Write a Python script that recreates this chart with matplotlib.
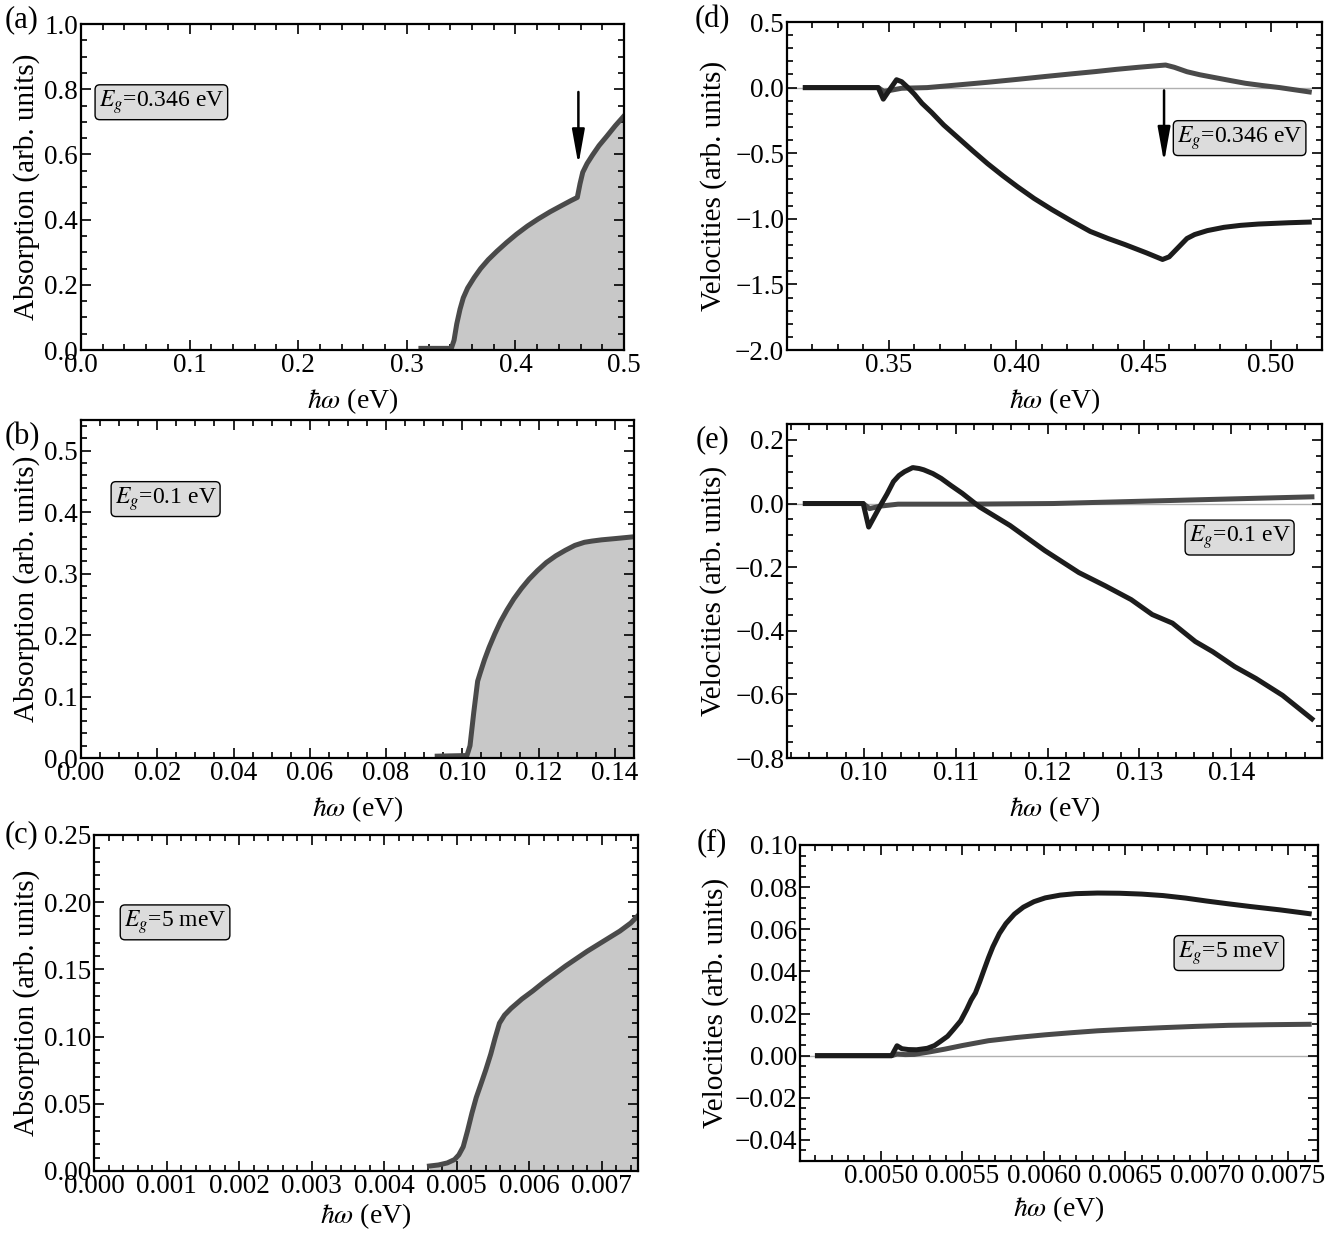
import matplotlib
matplotlib.use("Agg")
import matplotlib.pyplot as plt
from matplotlib.ticker import MultipleLocator, FuncFormatter

plt.rcParams['font.family'] = ['Liberation Serif', 'DejaVu Serif']
plt.rcParams['mathtext.fontset'] = 'stix'
plt.rcParams['font.size'] = 21
plt.rcParams['xtick.labelsize'] = 19.5
plt.rcParams['ytick.labelsize'] = 19.5

# ---- data ----
# (a) absorption, Eg = 0.346 eV
a_x = [0.313, 0.341, 0.3435, 0.346, 0.349, 0.352, 0.356, 0.362, 0.368, 0.375,
       0.383, 0.392, 0.401, 0.411, 0.421, 0.432, 0.442, 0.451, 0.457, 0.4595,
       0.462, 0.466, 0.471, 0.477, 0.484, 0.492, 0.500]
a_y = [0.005, 0.005, 0.030, 0.080, 0.125, 0.160, 0.190, 0.222, 0.250, 0.277,
       0.303, 0.330, 0.355, 0.380, 0.402, 0.424, 0.442, 0.458, 0.468, 0.510,
       0.545, 0.572, 0.598, 0.627, 0.655, 0.688, 0.718]

# (b) absorption, Eg = 0.1 eV
b_x = [0.0934, 0.1012, 0.1020, 0.1030, 0.1040, 0.1047, 0.1058, 0.1070, 0.1085,
       0.1100, 0.1117, 0.1135, 0.1155, 0.1175, 0.1197, 0.1220, 0.1245, 0.1270,
       0.1295, 0.1320, 0.1340, 0.1365, 0.1400, 0.1450]
b_y = [0.003, 0.004, 0.020, 0.075, 0.125, 0.139, 0.160, 0.180, 0.202,
       0.222, 0.241, 0.259, 0.276, 0.291, 0.305, 0.318, 0.329, 0.338,
       0.346, 0.351, 0.353, 0.355, 0.357, 0.360]

# (c) absorption, Eg = 5 meV
c_x = [0.004625, 0.00475, 0.00487, 0.00497, 0.00503, 0.00509, 0.00515, 0.00521,
       0.00527, 0.00533, 0.00540, 0.00547, 0.00553, 0.00559, 0.00566, 0.00575,
       0.00590, 0.00605, 0.00620, 0.00635, 0.00650, 0.00665, 0.00680, 0.00695,
       0.00710, 0.00725, 0.00740, 0.00750]
c_y = [0.0037, 0.0045, 0.0060, 0.0085, 0.0120, 0.0180, 0.0299, 0.0430,
       0.0547, 0.0640, 0.0750, 0.0870, 0.0990, 0.1100, 0.1160, 0.1210,
       0.1280, 0.1340, 0.1405, 0.1465, 0.1525, 0.1580, 0.1635, 0.1685,
       0.1735, 0.1785, 0.1845, 0.1900]

# (d) velocities, Eg = 0.346 eV
d_x1 = [0.3172, 0.3458, 0.3478, 0.3505, 0.3530, 0.3550, 0.3575, 0.3600, 0.3630,
        0.3668, 0.3715, 0.3769, 0.3828, 0.3887, 0.3946, 0.4005, 0.4070, 0.4140,
        0.4215, 0.4290, 0.4360, 0.4426, 0.4510, 0.4574, 0.4600, 0.4620, 0.4650,
        0.4670, 0.4700, 0.4750, 0.4815, 0.4880, 0.4950, 0.5070, 0.5150]
d_y1 = [0.0, 0.0, -0.088, -0.01, 0.060, 0.045, 0.0, -0.05, -0.12,
        -0.19, -0.285, -0.378, -0.480, -0.579, -0.670, -0.756, -0.845, -0.930,
        -1.015, -1.096, -1.150, -1.196, -1.259, -1.310, -1.290, -1.250, -1.190,
        -1.150, -1.120, -1.090, -1.065, -1.050, -1.040, -1.030, -1.025]
d_x2 = [0.3172, 0.3458, 0.3480, 0.3550, 0.3650, 0.3769, 0.3890, 0.4005, 0.4115,
        0.4224, 0.4310, 0.4392, 0.4480, 0.4560, 0.4586, 0.4620, 0.4670, 0.4720,
        0.4780, 0.4840, 0.4899, 0.4965, 0.5034, 0.5150]
d_y2 = [0.0, 0.0, -0.030, -0.005, 0.0, 0.020, 0.041, 0.063, 0.085,
        0.106, 0.122, 0.139, 0.155, 0.168, 0.172, 0.155, 0.121, 0.098,
        0.076, 0.054, 0.033, 0.016, 0.0, -0.033]

# (e) velocities, Eg = 0.1 eV
e_x1 = [0.0936, 0.0999, 0.1005, 0.1018, 0.1025, 0.1032, 0.1038, 0.1044, 0.1053,
        0.1060, 0.1065, 0.1075, 0.1084, 0.1095, 0.1107, 0.1126, 0.1159, 0.1197,
        0.1234, 0.1263, 0.1291, 0.1314, 0.1336, 0.1361, 0.1380, 0.1404, 0.1427,
        0.1456, 0.1488]
e_y1 = [0.0, 0.0, -0.074, -0.005, 0.030, 0.069, 0.088, 0.100, 0.113,
        0.110, 0.106, 0.094, 0.079, 0.056, 0.032, -0.011, -0.069, -0.148,
        -0.217, -0.259, -0.302, -0.349, -0.376, -0.434, -0.466, -0.513, -0.550,
        -0.603, -0.677]
e_x2 = [0.0936, 0.0999, 0.1006, 0.1018, 0.1037, 0.1113, 0.1206, 0.1300, 0.1394, 0.1488]
e_y2 = [0.0, 0.0, -0.016, -0.008, -0.002, -0.002, 0.0, 0.007, 0.014, 0.021]

# (f) velocities, Eg = 5 meV
f_x1 = [0.004612, 0.005067, 0.005100, 0.005130, 0.005170, 0.005220, 0.005286,
        0.005330, 0.005367, 0.005410, 0.005447, 0.005490, 0.005527, 0.005555,
        0.005581, 0.005608, 0.005634, 0.005661, 0.005688, 0.005728, 0.005768,
        0.005820, 0.005875, 0.005940, 0.006009, 0.006100, 0.006196, 0.006330,
        0.006464, 0.006600, 0.006731, 0.006870, 0.006999, 0.007130, 0.007267,
        0.007450, 0.007628]
f_y1 = [0.0, 0.0, 0.0047, 0.0033, 0.0029, 0.0028, 0.0035,
        0.0048, 0.0068, 0.0092, 0.0125, 0.0165, 0.0219, 0.0265,
        0.0298, 0.0352, 0.0408, 0.0465, 0.0517, 0.0580, 0.0627,
        0.0672, 0.0705, 0.0731, 0.0749, 0.0762, 0.0769, 0.0772,
        0.0771, 0.0767, 0.0760, 0.0748, 0.0734, 0.0721, 0.0708,
        0.0692, 0.0674]
f_x2 = [0.004612, 0.005067, 0.005100, 0.005150, 0.005206, 0.005300, 0.005393,
        0.005500, 0.005661, 0.005830, 0.006009, 0.006170, 0.006330, 0.006530,
        0.006731, 0.006930, 0.007133, 0.007380, 0.007628]
f_y2 = [0.0, 0.0, 0.0008, 0.0005, 0.0006, 0.0018, 0.0031,
        0.0048, 0.0071, 0.0086, 0.0099, 0.0109, 0.0118, 0.0126,
        0.0133, 0.0139, 0.0144, 0.0147, 0.0149]

W, H = 1340, 1236
fig = plt.figure(figsize=(W / 100, H / 100), dpi=100)


def add_ax(left, right, top, bottom):
    return fig.add_axes([left / W, 1 - bottom / H, (right - left) / W, (bottom - top) / H])


def fmt(nd):
    return FuncFormatter(lambda v, p: f"{v:.{nd}f}".replace("-", "\u2212"))


def style(ax, xlim, ylim, xmaj, xmin, ymaj, ymin, xnd, ynd, xpad=6):
    ax.set_xlim(*xlim)
    ax.set_ylim(*ylim)
    ax.xaxis.set_major_locator(MultipleLocator(xmaj))
    ax.xaxis.set_minor_locator(MultipleLocator(xmin))
    ax.yaxis.set_major_locator(MultipleLocator(ymaj))
    ax.yaxis.set_minor_locator(MultipleLocator(ymin))
    ax.xaxis.set_major_formatter(fmt(xnd))
    ax.yaxis.set_major_formatter(fmt(ynd))
    ax.tick_params(which='both', direction='in', top=True, right=True, width=1.2)
    ax.tick_params(which='major', length=7, pad=2)
    ax.tick_params(which='minor', length=4)
    for s in ax.spines.values():
        s.set_linewidth(1.6)
    ax.set_xlabel(r'$\hbar\omega$ (eV)', labelpad=xpad, fontsize=20)


box = dict(boxstyle='round,pad=0.15,rounding_size=0.2', facecolor='#dcdcdc', edgecolor='black', lw=1.0)
arrow = dict(arrowstyle='-|>,head_width=0.18,head_length=1.0', color='k', lw=1.8)
absc = '#4a4a4a'
fillc = '#c8c8c8'
dark = '#1c1c1c'
grey = '#4a4a4a'
boxfs = 17

# (a)
ax = add_ax(81, 624, 24, 350)
ax.fill_between(a_x, 0, a_y, color=fillc, lw=0)
ax.plot(a_x, a_y, color=absc, lw=3.6)
style(ax, (0, 0.5), (0, 1.0), 0.1, 0.02, 0.2, 0.05, 1, 1)
ax.set_ylabel('Absorption (arb. units)', labelpad=3)
ax.text(0.148, 0.76, r'$E_g$=0.346 eV', transform=ax.transAxes, ha='center', va='center', fontsize=boxfs, bbox=box)
ax.annotate('', xy=(0.458, 0.56), xytext=(0.458, 0.80), arrowprops=arrow)
fig.text(22 / W, 1 - 20 / H, '(a)', ha='center', va='center', fontsize=22)

# (b)
ax = add_ax(81, 634, 420, 758)
ax.fill_between(b_x, 0, b_y, color=fillc, lw=0)
ax.plot(b_x, b_y, color=absc, lw=3.6)
style(ax, (0, 0.145), (0, 0.55), 0.02, 0.005, 0.1, 0.02, 2, 1)
ax.set_ylabel('Absorption (arb. units)', labelpad=3)
ax.text(0.153, 0.766, r'$E_g$=0.1 eV', transform=ax.transAxes, ha='center', va='center', fontsize=boxfs, bbox=box)
fig.text(22 / W, 1 - 437 / H, '(b)', ha='center', va='center', fontsize=22)

# (c)
ax = add_ax(94, 638, 835, 1171)
ax.fill_between(c_x, 0, c_y, color=fillc, lw=0)
ax.plot(c_x, c_y, color=absc, lw=3.6)
style(ax, (0, 0.0075), (0, 0.25), 0.001, 0.0002, 0.05, 0.01, 3, 2, xpad=2)
ax.set_ylabel('Absorption (arb. units)', labelpad=3)
ax.text(0.149, 0.74, r'$E_g$=5 meV', transform=ax.transAxes, ha='center', va='center', fontsize=boxfs, bbox=box)
fig.text(22 / W, 1 - 835 / H, '(c)', ha='center', va='center', fontsize=22)

# (d)
ax = add_ax(787, 1322, 22, 350)
ax.axhline(0, color='#b0b0b0', lw=1.0, zorder=1)
ax.plot(d_x2, d_y2, color=grey, lw=3.6)
ax.plot(d_x1, d_y1, color=dark, lw=3.6)
style(ax, (0.310, 0.520), (-2.0, 0.5), 0.05, 0.01, 0.5, 0.1, 2, 1)
ax.set_ylabel('Velocities (arb. units)', labelpad=6)
ax.text(0.846, 0.646, r'$E_g$=0.346 eV', transform=ax.transAxes, ha='center', va='center', fontsize=boxfs, bbox=box)
ax.annotate('', xy=(0.458, -0.59), xytext=(0.458, 0.0), arrowprops=arrow)
fig.text(712 / W, 1 - 20 / H, '(d)', ha='center', va='center', fontsize=22)

# (e)
ax = add_ax(787, 1322, 424, 758)
ax.axhline(0, color='#b0b0b0', lw=1.0, zorder=1)
ax.plot(e_x2, e_y2, color=grey, lw=3.6)
ax.plot(e_x1, e_y1, color=dark, lw=3.6)
style(ax, (0.0916, 0.1499), (-0.8, 0.25), 0.01, 0.002, 0.2, 0.05, 2, 1)
ax.set_ylabel('Velocities (arb. units)', labelpad=6)
ax.text(0.846, 0.66, r'$E_g$=0.1 eV', transform=ax.transAxes, ha='center', va='center', fontsize=boxfs, bbox=box)
fig.text(712 / W, 1 - 440 / H, '(e)', ha='center', va='center', fontsize=22)

# (f)
ax = add_ax(800, 1318, 845, 1161)
ax.axhline(0, color='#b0b0b0', lw=1.0, zorder=1)
ax.plot(f_x2, f_y2, color=grey, lw=3.6)
ax.plot(f_x1, f_y1, color=dark, lw=3.6)
style(ax, (0.004505, 0.007682), (-0.05, 0.10), 0.0005, 0.0001, 0.02, 0.005, 4, 2, xpad=4)
ax.set_ylabel('Velocities (arb. units)', labelpad=4)
ax.text(0.828, 0.658, r'$E_g$=5 meV', transform=ax.transAxes, ha='center', va='center', fontsize=boxfs, bbox=box)
fig.text(712 / W, 1 - 843 / H, '(f)', ha='center', va='center', fontsize=22)

fig.savefig('out.png', dpi=100)
